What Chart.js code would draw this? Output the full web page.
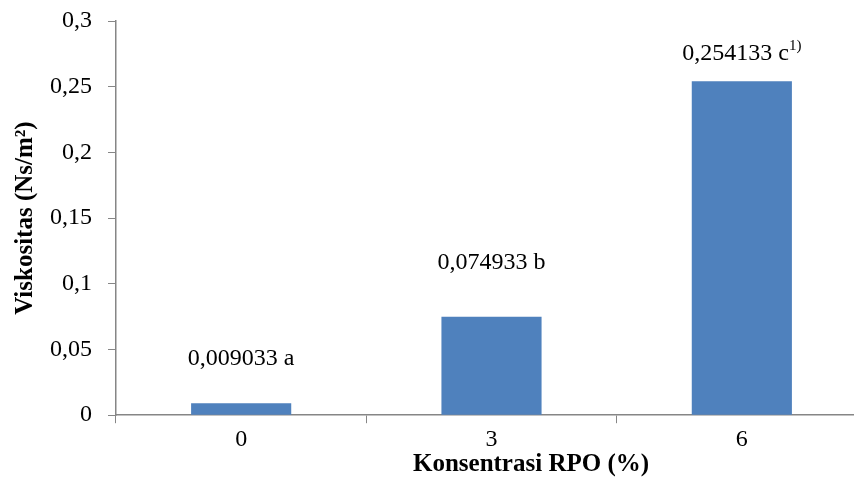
<!DOCTYPE html>
<html lang="id">
<head>
    <meta charset="UTF-8">
    <title>Viskositas</title>
    <script src="https://cdn.jsdelivr.net/npm/chart.js"></script>
    <style>
        body { margin: 0; padding: 0; background: #fff; overflow: hidden; }
        /* plot area runs a little past the right edge, as in the original */
        #wrap { width: 867px; height: 480px; }
    </style>
</head>
<body>
    <div id="wrap"><canvas id="chart"></canvas></div>

    <script>
        const categories = ['0', '3', '6'];
        const viskositas = [0.009033, 0.074933, 0.254133];
        const notasi = ['a', 'b', 'c'];
        const yTicks = [0, 0.05, 0.1, 0.15, 0.2, 0.25, 0.3];

        const serif = 'Liberation Serif, Times New Roman, serif';
        const axisColor = '#868686';

        function fmt(v, digits) {
            return Number(v.toFixed(digits)).toString().replace('.', ',');
        }

        // labels above the bars, Excel style
        const barLabels = {
            id: 'barLabels',
            afterDatasetsDraw(chart, args, opts) {
                const ctx = chart.ctx;
                const meta = chart.getDatasetMeta(0);
                ctx.save();
                ctx.fillStyle = '#000';
                ctx.textBaseline = 'middle';
                meta.data.forEach((bar, i) => {
                    const main = fmt(viskositas[i], 6) + ' ' + notasi[i];
                    const sup = i === viskositas.length - 1 ? '1)' : '';
                    ctx.font = '24px ' + serif;
                    const w1 = ctx.measureText(main).width;
                    ctx.font = '15px ' + serif;
                    const w2 = sup ? ctx.measureText(sup).width : 0;
                    const x0 = bar.x - (w1 + w2) / 2;
                    const y = bar.y - opts.offsets[i];
                    ctx.font = '24px ' + serif;
                    ctx.textAlign = 'left';
                    ctx.fillText(main, x0, y);
                    if (sup) {
                        ctx.font = '15px ' + serif;
                        ctx.fillText(sup, x0 + w1, y - 7);
                    }
                });
                ctx.restore();
            }
        };

        // axis titles (x one is off-centre in the original)
        const axisTitles = {
            id: 'axisTitles',
            afterDraw(chart, args, opts) {
                const ctx = chart.ctx;
                const area = chart.chartArea;
                ctx.save();
                ctx.font = 'bold 25px ' + serif;
                ctx.fillStyle = '#000';
                ctx.textAlign = 'center';
                ctx.textBaseline = 'middle';
                ctx.fillText(opts.x.text, opts.x.cx, opts.x.cy);
                ctx.translate(opts.y.cx, (area.top + area.bottom) / 2);
                ctx.rotate(-Math.PI / 2);
                ctx.fillText(opts.y.text, 0, 0);
                ctx.restore();
            }
        };

        new Chart(document.getElementById('chart'), {
            type: 'bar',
            data: {
                labels: categories,
                datasets: [{
                    data: viskositas,
                    backgroundColor: '#4F81BD',
                    borderWidth: 0,
                    barPercentage: 0.4,
                    categoryPercentage: 1.0
                }]
            },
            options: {
                responsive: true,
                maintainAspectRatio: false,
                animation: false,
                layout: { padding: { left: 50, top: 21, right: 0, bottom: 24 } },
                plugins: {
                    legend: { display: false },
                    tooltip: { enabled: false },
                    barLabels: { offsets: [45, 54, 28] },
                    axisTitles: {
                        x: { text: 'Konsentrasi RPO (%)', cx: 531, cy: 465 },
                        y: { text: 'Viskositas (Ns/m²)', cx: 26 }
                    }
                },
                scales: {
                    x: {
                        afterFit(scale) {
                            scale.paddingLeft = 0;
                            scale.paddingRight = 0;
                        },
                        grid: {
                            display: true,
                            drawOnChartArea: false,
                            tickLength: 8,
                            color: axisColor,
                            offset: true
                        },
                        border: { color: axisColor, width: 1.5 },
                        ticks: {
                            color: '#000',
                            font: { family: serif, size: 24 },
                            padding: 2
                        }
                    },
                    y: {
                        min: 0,
                        max: 0.3,
                        afterBuildTicks(scale) {
                            scale.ticks = yTicks.map(v => ({ value: v }));
                        },
                        afterFit(scale) {
                            scale.width = 66;
                            scale.paddingTop = 0;
                            scale.paddingBottom = 0;
                        },
                        grid: {
                            display: true,
                            drawOnChartArea: false,
                            tickLength: 8,
                            color: axisColor
                        },
                        border: { color: axisColor, width: 1.5 },
                        ticks: {
                            color: '#000',
                            font: { family: serif, size: 24 },
                            padding: 16,
                            callback: v => fmt(v, 2)
                        }
                    }
                }
            },
            plugins: [barLabels, axisTitles]
        });
    </script>
</body>
</html>
